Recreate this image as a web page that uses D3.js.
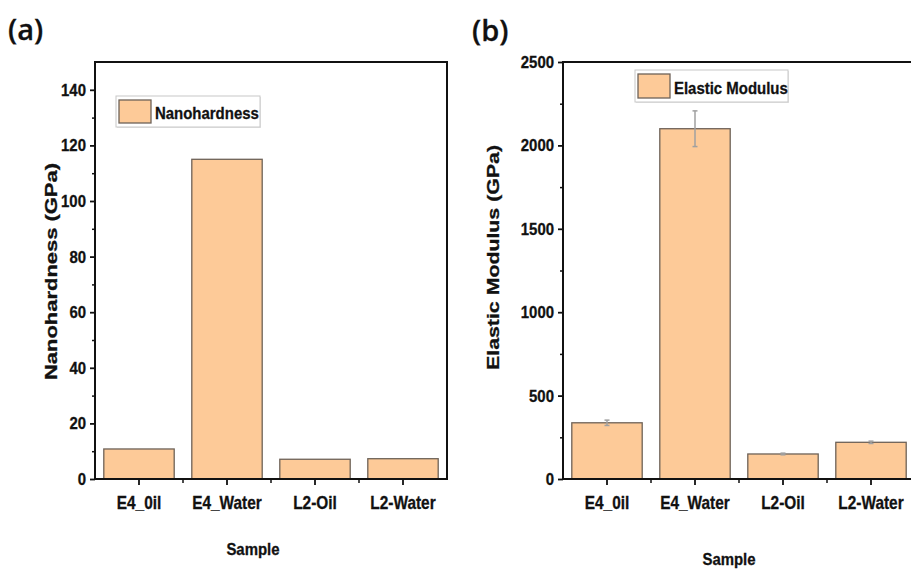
<!DOCTYPE html>
<html><head><meta charset="utf-8">
<script src="https://cdn.jsdelivr.net/npm/d3@7"></script>
<style>
body{margin:0;background:#fff;}
text{font-family:"Liberation Sans",Arial,sans-serif;font-weight:bold;fill:#111;stroke:#111;stroke-width:0.3px;}
</style></head>
<body><svg id="c" width="911" height="573"></svg>
<script>
const samples = ["E4_0il","E4_Water","L2-Oil","L2-Water"];
const nanohardness = [10.8, 115, 7.1, 7.3];
const elasticModulus = [337, 2100, 150, 220];
const elasticErr = [16, 107, 5, 7];
const hardTicks = [0,20,40,60,80,100,120,140];
const modTicks = [0,500,1000,1500,2000,2500];

const S = 0.88;
const svg = d3.select("#c");

function narrow(sel){
  sel.each(function(){
    const t = d3.select(this);
    const x = +t.attr("x") || 0;
    t.attr("x", x/S).attr("transform", `scale(${S},1)`);
  });
}

function panel(o){
  const g = svg.append("g");
  const x = d3.scaleBand().domain(samples).range([o.x0,o.x1]).paddingInner(0.2).paddingOuter(0.1);
  const y = d3.scaleLinear().domain(o.domain).range([o.y0,o.y1]);
  g.selectAll("rect.bar").data(o.values).join("rect")
    .attr("x",(d,i)=>x(samples[i])).attr("width",x.bandwidth())
    .attr("y",d=>y(d)).attr("height",d=>y(0)-y(d))
    .attr("fill","#fdca98").attr("stroke","#6e6258").attr("stroke-width",1.3);
  if(o.err){
    o.err.forEach((e,i)=>{
      const cx = x(samples[i])+x.bandwidth()/2;
      g.append("line").attr("x1",cx).attr("x2",cx).attr("y1",y(o.values[i]-e)).attr("y2",y(o.values[i]+e))
        .attr("stroke","#a0a0a0").attr("stroke-width",1.5);
      [o.values[i]-e,o.values[i]+e].forEach(v=>{
        g.append("line").attr("x1",cx-2.5).attr("x2",cx+2.5).attr("y1",y(v)).attr("y2",y(v))
          .attr("stroke","#a0a0a0").attr("stroke-width",1.5);
      });
    });
  }
  g.append("rect").attr("x",o.x0).attr("y",o.y1).attr("width",o.x1-o.x0).attr("height",o.y0-o.y1)
    .attr("fill","none").attr("stroke","#111").attr("stroke-width",2);
  const ya = d3.axisLeft(y).tickValues(o.ticks).tickSize(5).tickPadding(4).tickFormat(d3.format("d"));
  const yg = g.append("g").attr("transform",`translate(${o.x0},0)`).call(ya);
  yg.select(".domain").remove();
  yg.selectAll("line").attr("stroke","#111").attr("stroke-width",1.8);
  yg.selectAll("text").style("font-size","17px").attr("fill","#111").call(narrow);
  const ym = g.append("g").attr("transform",`translate(${o.x0},0)`)
    .call(d3.axisLeft(y).tickValues(o.minor).tickSize(3).tickFormat(""));
  ym.select(".domain").remove();
  ym.selectAll("line").attr("stroke","#111").attr("stroke-width",1.5);
  const xg = g.append("g").attr("transform",`translate(0,${o.y0})`)
    .call(d3.axisBottom(x).tickSize(6).tickPadding(12));
  xg.select(".domain").remove();
  xg.selectAll("line").attr("stroke","#111").attr("stroke-width",1.8);
  xg.selectAll("text").style("font-size","17.5px").attr("fill","#111").call(narrow);
  samples.slice(1).forEach(s=>{
    const bx = x(s) - x.step()*x.paddingInner()/2;
    g.append("line").attr("x1",bx).attr("x2",bx).attr("y1",o.y0).attr("y2",o.y0+4)
      .attr("stroke","#111").attr("stroke-width",1.5);
  });
  g.append("text").attr("x",(o.x0+o.x1)/2 + o.sampleDx).attr("y",o.sampleY).attr("text-anchor","middle")
    .style("font-size","17px").text("Sample").call(narrow);
  g.append("text").attr("transform",`translate(${o.ylabX},${o.ylabY}) rotate(-90)`).attr("text-anchor","middle")
    .attr("textLength",o.ylabLen).attr("lengthAdjust","spacingAndGlyphs")
    .style("font-size",o.ylabSize+"px").text(o.ylab);
  const L = o.legend;
  g.append("rect").attr("x",L.x+1).attr("y",L.y+1).attr("width",L.w).attr("height",L.h).attr("fill","#e4e4e4");
  g.append("rect").attr("x",L.x).attr("y",L.y).attr("width",L.w).attr("height",L.h)
    .attr("fill","#fff").attr("stroke","#c8c8c8").attr("stroke-width",1);
  g.append("rect").attr("x",L.x+3).attr("y",L.y+4).attr("width",32).attr("height",L.h-8)
    .attr("fill","#fdca98").attr("stroke","#6e6258").attr("stroke-width",1.3);
  g.append("text").attr("x",L.x+39).attr("y",L.y+L.h/2+8).style("font-size","17px").text(L.text).call(narrow);
  svg.append("text").attr("x",o.lab[0]).attr("y",o.lab[1])
    .style("font-family","'Open Sans',sans-serif").style("font-weight","600").style("font-size","29px").text(o.labText);
}

panel({x0:95,x1:447,y0:479,y1:62,domain:[0,150],values:nanohardness,err:null,
  ticks:hardTicks,minor:[10,30,50,70,90,110,130],
  ylab:"Nanohardness (GPa)",ylabX:57,ylabY:271.5,ylabLen:217,ylabSize:16,sampleY:555,sampleDx:-18,
  legend:{x:116,y:96,w:144,h:31,text:"Nanohardness"},lab:[8,40],labText:"(a)"});

panel({x0:563,x1:915,y0:479,y1:62,domain:[0,2500],values:elasticModulus,err:elasticErr,
  ticks:modTicks,minor:[250,750,1250,1750,2250],
  ylab:"Elastic Modulus (GPa)",ylabX:499,ylabY:257.5,ylabLen:225,ylabSize:17,sampleY:565,sampleDx:-10,
  legend:{x:635,y:70,w:153,h:32,text:"Elastic Modulus"},lab:[472,41],labText:"(b)"});
</script></body></html>
